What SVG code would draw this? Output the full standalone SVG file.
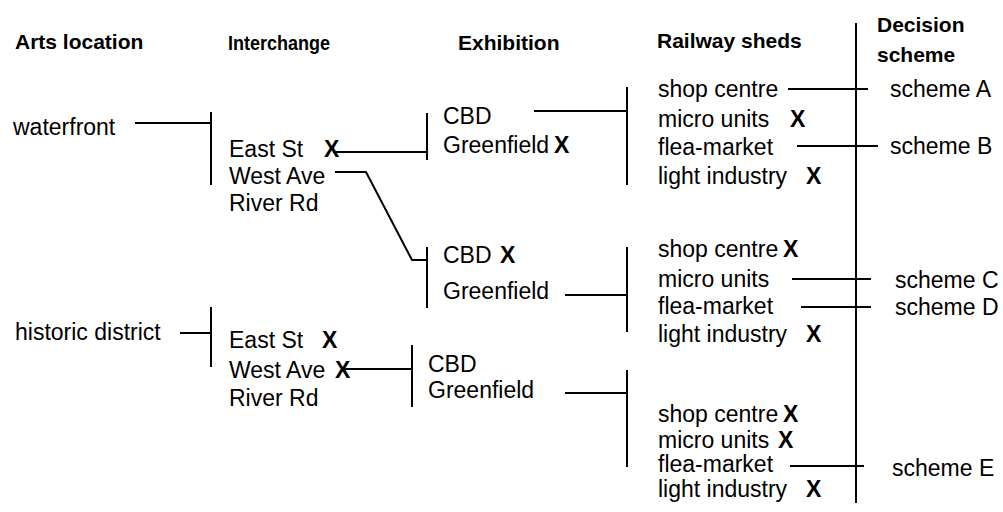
<svg xmlns="http://www.w3.org/2000/svg" width="1003" height="512" viewBox="0 0 1003 512">
<style>
.h{font-family:"Liberation Sans",Arial,sans-serif;font-weight:bold;font-size:21px;fill:#000}
.t{font-family:"Liberation Sans",Arial,sans-serif;font-size:23px;fill:#000}
.x{font-family:"Liberation Sans",Arial,sans-serif;font-size:23px;font-weight:bold;fill:#000}
.c{stroke:#000;stroke-width:2;fill:none}
</style>
<rect width="1003" height="512" fill="#fff"/>
<g id="headers">
<text class="h" x="15" y="49">Arts location</text>
<text class="h" x="228" y="50" textLength="102" lengthAdjust="spacingAndGlyphs">Interchange</text>
<text class="h" x="458" y="50">Exhibition</text>
<text class="h" x="657" y="48">Railway sheds</text>
<text class="h" x="877" y="32">Decision</text>
<text class="h" x="877" y="62">scheme</text>
</g>
<g id="connectors">
<path class="c" d="M135 123H211M211 112V185"/>
<path class="c" d="M180 333H211M211 307V367"/>
<path class="c" d="M333 152H427M427 113V160"/>
<path class="c" d="M335 172H366L412 260H427M427 247V308"/>
<path class="c" d="M345 369H412M412 345V407"/>
<path class="c" d="M534 111H627M627 87V185"/>
<path class="c" d="M565 295H627M627 247V332"/>
<path class="c" d="M565 393H627M627 370V467"/>
<path class="c" d="M856 23V503"/>
<path class="c" d="M788 89H868"/>
<path class="c" d="M797 146H878"/>
<path class="c" d="M792 279H871"/>
<path class="c" d="M801 307H871"/>
<path class="c" d="M790 466H864"/>
</g>
<g id="arts-waterfront"><text class="t" x="13" y="135">waterfront</text></g>
<g id="arts-historic"><text class="t" x="15" y="340">historic district</text></g>
<g id="interchange-1">
<text class="t" x="229" y="157">East St</text><text class="x" x="324" y="157">X</text>
<text class="t" x="229" y="184">West Ave</text>
<text class="t" x="229" y="211">River Rd</text>
</g>
<g id="interchange-2">
<text class="t" x="229" y="348">East St</text><text class="x" x="322" y="348">X</text>
<text class="t" x="229" y="378">West Ave</text><text class="x" x="335" y="378">X</text>
<text class="t" x="229" y="406">River Rd</text>
</g>
<g id="exhibition-1">
<text class="t" x="443" y="124">CBD</text>
<text class="t" x="443" y="153">Greenfield</text><text class="x" x="554" y="153">X</text>
</g>
<g id="exhibition-2">
<text class="t" x="443" y="263">CBD</text><text class="x" x="500" y="263">X</text>
<text class="t" x="443" y="299">Greenfield</text>
</g>
<g id="exhibition-3">
<text class="t" x="428" y="372">CBD</text>
<text class="t" x="428" y="398">Greenfield</text>
</g>
<g id="railway-1">
<text class="t" x="658" y="97">shop centre</text>
<text class="t" x="658" y="127">micro units</text><text class="x" x="790" y="127">X</text>
<text class="t" x="658" y="155">flea-market</text>
<text class="t" x="658" y="184">light industry</text><text class="x" x="806" y="184">X</text>
</g>
<g id="railway-2">
<text class="t" x="658" y="257">shop centre</text><text class="x" x="783" y="257">X</text>
<text class="t" x="658" y="287">micro units</text>
<text class="t" x="658" y="314">flea-market</text>
<text class="t" x="658" y="342">light industry</text><text class="x" x="806" y="342">X</text>
</g>
<g id="railway-3">
<text class="t" x="658" y="422">shop centre</text><text class="x" x="783" y="422">X</text>
<text class="t" x="658" y="448">micro units</text><text class="x" x="778" y="448">X</text>
<text class="t" x="658" y="472">flea-market</text>
<text class="t" x="658" y="497">light industry</text><text class="x" x="806" y="497">X</text>
</g>
<g id="scheme-a"><text class="t" x="890" y="97">scheme A</text></g>
<g id="scheme-b"><text class="t" x="890" y="154">scheme B</text></g>
<g id="scheme-c"><text class="t" x="895" y="288">scheme C</text></g>
<g id="scheme-d"><text class="t" x="895" y="315">scheme D</text></g>
<g id="scheme-e"><text class="t" x="892" y="476">scheme E</text></g>
</svg>
